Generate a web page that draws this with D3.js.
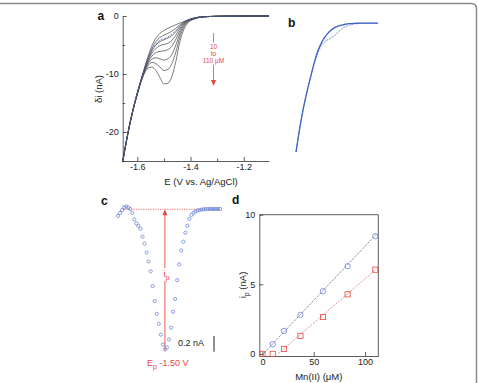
<!DOCTYPE html>
<html>
<head>
<meta charset="utf-8">
<script src="https://cdn.jsdelivr.net/npm/d3@7"></script>
<style>
  body { margin: 0; background: #fff; }
  svg { display: block; font-family: "Liberation Sans", Arial, Helvetica, sans-serif; }
  .axis path, .axis line { stroke: #333; stroke-width: 0.8; }
  .axis text { fill: #222; font-size: 9px; }
</style>
</head>
<body>
<script>
"use strict";

// panel a : potential grid (V) and current traces (nA), 0 .. 110 uM
const potA = [-1.655,-1.64,-1.62,-1.60,-1.58,-1.56,-1.545,-1.53,-1.515,-1.50,-1.485,-1.47,-1.455,-1.44,-1.425,-1.41,-1.39,-1.37,-1.34,-1.30,-1.25,-1.20,-1.15,-1.105];
const tracesA = [
  [-25.0,-21.2,-16.8,-13.2,-10.0,-7.0,-5.1,-3.8,-3.0,-2.5,-2.1,-1.8,-1.5,-1.2,-0.95,-0.65,-0.38,-0.2,-0.1,-0.05,-0.02,0,0,0],
  [-25.0,-21.2,-16.8,-13.2,-10.1,-7.3,-5.6,-4.4,-3.7,-3.3,-3.0,-2.6,-2.1,-1.5,-1.05,-0.7,-0.4,-0.2,-0.1,-0.05,-0.02,0,0,0],
  [-25.1,-21.3,-16.9,-13.3,-10.2,-7.6,-6.0,-5.0,-4.4,-4.1,-3.8,-3.4,-2.7,-1.8,-1.15,-0.75,-0.42,-0.22,-0.1,-0.05,-0.02,0,0,0],
  [-25.1,-21.3,-16.9,-13.3,-10.2,-7.8,-6.4,-5.6,-5.1,-4.9,-4.7,-4.2,-3.3,-2.1,-1.25,-0.8,-0.45,-0.22,-0.1,-0.05,-0.02,0,0,0],
  [-25.1,-21.3,-16.9,-13.4,-10.3,-8.0,-6.9,-6.3,-6.1,-6.0,-5.8,-5.2,-4.0,-2.5,-1.4,-0.85,-0.48,-0.24,-0.11,-0.05,-0.02,0,0,0],
  [-25.2,-21.3,-17.0,-13.4,-10.4,-8.3,-7.4,-7.2,-7.4,-7.6,-7.4,-6.6,-5.0,-3.0,-1.6,-0.9,-0.5,-0.25,-0.11,-0.05,-0.02,0,0,0],
  [-25.2,-21.4,-17.0,-13.5,-10.5,-8.6,-8.0,-8.2,-8.8,-9.4,-9.2,-8.2,-6.2,-3.6,-1.9,-1.0,-0.55,-0.27,-0.12,-0.05,-0.02,0,0,0],
  [-25.2,-21.4,-17.0,-13.5,-10.6,-9.0,-8.8,-9.4,-10.6,-11.7,-11.6,-10.4,-7.8,-4.4,-2.3,-1.2,-0.6,-0.3,-0.12,-0.05,-0.02,0,0,0]
];
const dashedA = [-25.1,-21.3,-16.9,-13.3,-10.2,-7.5,-5.9,-4.8,-4.2,-3.9,-3.6,-3.1,-2.5,-1.7,-1.1,-0.72,-0.41,-0.21,-0.1,-0.05,-0.02,0,0,0];

// panel b : background fit and one measured trace
const fitB = [-25,-21.2,-16.8,-13.2,-10,-7.0,-5.2,-3.9,-2.9,-2.1,-1.5,-1.05,-0.75,-0.52,-0.36,-0.24,-0.14,-0.08,-0.04,-0.02,-0.01,0,0,0];
const traceB = tracesA[1];

// panel c : background-subtracted signal
const potC = [-1.600,-1.596,-1.592,-1.588,-1.584,-1.580,-1.576,-1.572,-1.568,-1.564,-1.560,-1.556,-1.552,-1.548,-1.544,-1.540,-1.536,-1.532,-1.528,-1.524,-1.520,-1.516,-1.512,-1.508,-1.504,-1.500,-1.496,-1.492,-1.488,-1.484,-1.480,-1.476,-1.472,-1.468,-1.464,-1.460,-1.456,-1.452,-1.448,-1.444,-1.440,-1.436,-1.432,-1.428,-1.424,-1.420,-1.416,-1.412,-1.408,-1.404,-1.400];
const curC = [-0.084,-0.046,-0.009,0.023,0.035,0.023,0.004,-0.046,-0.128,-0.178,-0.209,-0.246,-0.346,-0.434,-0.546,-0.659,-0.784,-0.971,-1.159,-1.321,-1.446,-1.584,-1.709,-1.771,-1.746,-1.646,-1.496,-1.296,-1.134,-0.896,-0.696,-0.521,-0.409,-0.296,-0.209,-0.121,-0.071,-0.046,-0.028,-0.015,-0.009,-0.003,0,0.004,0.004,0.004,0.004,0.004,0.004,0.004,0.004];
const peakE = -1.508;

// panel d : calibration
const concBlue = [10, 21, 37, 59, 83, 110];
const ipBlue = [0.7, 1.65, 2.8, 4.5, 6.3, 8.45];
const concRed = [0, 10, 21, 37, 59, 83, 110];
const ipRed = [0, 0, 0.36, 1.3, 2.65, 4.28, 6.05];
const fitBlueX = [0, 111], fitBlueY = [-0.05, 8.6];
const fitRedX = [15, 111], fitRedY = [0, 6.1];

const W = 478, H = 383;
const red = "#e8473f", blue = "#4a6fd0";

const svg = d3.select("body").append("svg").attr("width", W).attr("height", H);

// frame
svg.append("path")
  .attr("d", "M0,3.5H471Q476.5,3.5 476.5,9V383")
  .attr("fill", "none").attr("stroke", "#8a8a8a").attr("stroke-width", 1.5);

const panelLabel = (x, y, t) => svg.append("text").attr("x", x).attr("y", y)
  .attr("font-size", 12).attr("font-weight", "bold").attr("fill", "#111").text(t);

// ---------- panel a ----------
const xA = d3.scaleLinear().domain([-1.655, -1.105]).range([122.7, 269]);
const yA = d3.scaleLinear().domain([-25, 0]).range([161, 16]);

const gA = svg.append("g");
gA.append("g").attr("class", "axis").attr("transform", "translate(0,161)")
  .call(d3.axisBottom(xA).tickValues([-1.6, -1.4, -1.2]).tickFormat(d => d.toFixed(1))
    .tickSizeInner(-4).tickSizeOuter(0).tickPadding(3));
gA.append("g").attr("class", "axis").attr("transform", "translate(0,161)")
  .call(d3.axisBottom(xA).tickValues([-1.5, -1.3]).tickFormat("").tickSizeInner(-2.5).tickSizeOuter(0))
  .select(".domain").remove();
gA.append("g").attr("class", "axis").attr("transform", "translate(122.7,0)")
  .call(d3.axisLeft(yA).tickValues([0, -10, -20]).tickFormat(d => String(d))
    .tickSizeInner(-4).tickSizeOuter(0).tickPadding(4));
gA.append("g").attr("class", "axis").attr("transform", "translate(122.7,0)")
  .call(d3.axisLeft(yA).tickValues([-5, -15, -25]).tickFormat("").tickSizeInner(-2.5).tickSizeOuter(0))
  .select(".domain").remove();

const lineA = d3.line().x((d, i) => xA(potA[i])).y(d => yA(d)).curve(d3.curveMonotoneX);
gA.selectAll(".trace").data(tracesA).join("path")
  .attr("d", lineA).attr("fill", "none").attr("stroke", "#444").attr("stroke-width", 0.7);
gA.append("path").attr("d", lineA(dashedA)).attr("fill", "none")
  .attr("stroke", blue).attr("stroke-width", 0.8).attr("stroke-dasharray", "2,1.5");

gA.append("text").attr("x", 201).attr("y", 185).attr("text-anchor", "middle")
  .attr("font-size", 9.5).attr("fill", "#222").text("E (V vs. Ag/AgCl)");
gA.append("text").attr("transform", "translate(102,89) rotate(-90)").attr("text-anchor", "middle")
  .attr("font-size", 9.5).attr("fill", "#222").text("δi (nA)");

// red concentration arrow
const arrX = 213.5;
gA.append("line").attr("x1", arrX).attr("x2", arrX).attr("y1", 33).attr("y2", 42.5).attr("stroke", red).attr("stroke-width", 0.8);
gA.append("line").attr("x1", arrX).attr("x2", arrX).attr("y1", 64.5).attr("y2", 81).attr("stroke", red).attr("stroke-width", 0.8);
gA.append("path").attr("d", `M${arrX - 2.5},80L${arrX + 2.5},80L${arrX},86Z`).attr("fill", red);
[["10", 48.5], ["to", 55.5], ["110 μM", 62.5]].forEach(([t, y]) =>
  gA.append("text").attr("x", arrX).attr("y", y).attr("text-anchor", "middle")
    .attr("font-size", 6.5).attr("fill", red).text(t));

panelLabel(97.5, 20, "a");

// ---------- panel b ----------
const xB = d3.scaleLinear().domain([-1.655, -1.25]).range([296, 378]);
const yB = d3.scaleLinear().domain([-25, 0]).range([152, 23]);
const keepB = potA.map((e, i) => i).filter(i => potA[i] <= -1.25);
const lineB = arr => d3.line().x(i => xB(potA[i])).y(i => yB(arr[i])).curve(d3.curveMonotoneX)(keepB);
svg.append("path").attr("d", lineB(traceB)).attr("fill", "none")
  .attr("stroke", blue).attr("stroke-width", 0.8).attr("stroke-dasharray", "2,1");
svg.append("path").attr("d", lineB(fitB)).attr("fill", "none")
  .attr("stroke", "#3d63c2").attr("stroke-width", 1.3);
panelLabel(288, 27, "b");

// ---------- panel c ----------
const xC = d3.scaleLinear().domain([-1.60, -1.40]).range([118, 220]);
const yC = d3.scaleLinear().domain([-1.8, 0]).range([351.7, 209.3]);

svg.append("line").attr("x1", 124).attr("x2", 220).attr("y1", yC(0)).attr("y2", yC(0))
  .attr("stroke", red).attr("stroke-width", 0.8).attr("stroke-dasharray", "1.2,1.2");
const px = xC(peakE);
svg.append("line").attr("x1", px).attr("x2", px).attr("y1", yC(0) + 5).attr("y2", 268)
  .attr("stroke", red).attr("stroke-width", 0.9);
svg.append("line").attr("x1", px).attr("x2", px).attr("y1", 281).attr("y2", yC(-1.78))
  .attr("stroke", red).attr("stroke-width", 0.9);
svg.append("path").attr("d", `M${px - 2.5},${yC(0) + 6}L${px + 2.5},${yC(0) + 6}L${px},${yC(0)}Z`).attr("fill", red);
svg.append("text").attr("x", px - 1.5).attr("y", 277).attr("font-size", 9).attr("fill", red)
  .text("i").append("tspan").attr("dy", 2.5).attr("font-size", 7).text("p");

svg.append("g").selectAll("circle").data(curC).join("circle")
  .attr("cx", (d, i) => xC(potC[i])).attr("cy", d => yC(d)).attr("r", 1.6)
  .attr("fill", "none").attr("stroke", "#5b7bd5").attr("stroke-width", 0.7);

const ep = svg.append("text").attr("x", 147).attr("y", 366).attr("font-size", 9).attr("fill", red).text("E");
ep.append("tspan").attr("dy", 2.5).attr("font-size", 7).text("p");
ep.append("tspan").attr("dy", -2.5).text(" -1.50 V");

svg.append("line").attr("x1", 214).attr("x2", 214).attr("y1", yC(-1.6)).attr("y2", yC(-1.8))
  .attr("stroke", "#222").attr("stroke-width", 1);
svg.append("text").attr("x", 204).attr("y", 346).attr("text-anchor", "end")
  .attr("font-size", 9).attr("fill", "#222").text("0.2 nA");
panelLabel(101, 205, "c");

// ---------- panel d ----------
const xD = d3.scaleLinear().domain([-3.1, 112.9]).range([259.3, 378.3]);
const yD = d3.scaleLinear().domain([-0.15, 10]).range([356, 214.7]);

const gD = svg.append("g");
gD.append("g").attr("class", "axis").attr("transform", "translate(0,356)")
  .call(d3.axisBottom(xD).tickValues([0, 50, 100]).tickSizeInner(-4).tickSizeOuter(0).tickPadding(3));
gD.append("g").attr("class", "axis").attr("transform", "translate(259.3,0)")
  .call(d3.axisLeft(yD).tickValues([0, 5, 10]).tickSizeInner(-4).tickSizeOuter(0).tickPadding(4));
gD.append("path").attr("d", "M259.3,214.7H378.3V356").attr("fill", "none")
  .attr("stroke", "#333").attr("stroke-width", 0.8);

gD.append("line").attr("x1", xD(fitBlueX[0])).attr("y1", yD(fitBlueY[0]))
  .attr("x2", xD(fitBlueX[1])).attr("y2", yD(fitBlueY[1]))
  .attr("stroke", "#2f3550").attr("stroke-width", 0.8).attr("stroke-dasharray", "1,1.2");
gD.append("line").attr("x1", xD(fitRedX[0])).attr("y1", yD(fitRedY[0]))
  .attr("x2", xD(fitRedX[1])).attr("y2", yD(fitRedY[1]))
  .attr("stroke", "#c0504d").attr("stroke-width", 0.8).attr("stroke-dasharray", "1,1.2");

gD.selectAll(".sq").data(ipRed).join("rect")
  .attr("x", (d, i) => xD(concRed[i]) - 2.6).attr("y", d => yD(d) - 2.6)
  .attr("width", 5.2).attr("height", 5.2)
  .attr("fill", "none").attr("stroke", red).attr("stroke-width", 0.8);
gD.selectAll(".ci").data(ipBlue).join("circle")
  .attr("cx", (d, i) => xD(concBlue[i])).attr("cy", d => yD(d)).attr("r", 2.7)
  .attr("fill", "none").attr("stroke", "#6b82d6").attr("stroke-width", 0.8);

gD.append("text").attr("x", 318.8).attr("y", 380).attr("text-anchor", "middle")
  .attr("font-size", 9.5).attr("fill", "#222").text("Mn(II) (μM)");
const ipLab = gD.append("text").attr("transform", "translate(246,285) rotate(-90)")
  .attr("text-anchor", "middle").attr("font-size", 9.5).attr("fill", "#222").text("i");
ipLab.append("tspan").attr("dy", 2.5).attr("font-size", 7).text("p");
ipLab.append("tspan").attr("dy", -2.5).text(" (nA)");
panelLabel(232, 204, "d");
</script>
</body>
</html>
